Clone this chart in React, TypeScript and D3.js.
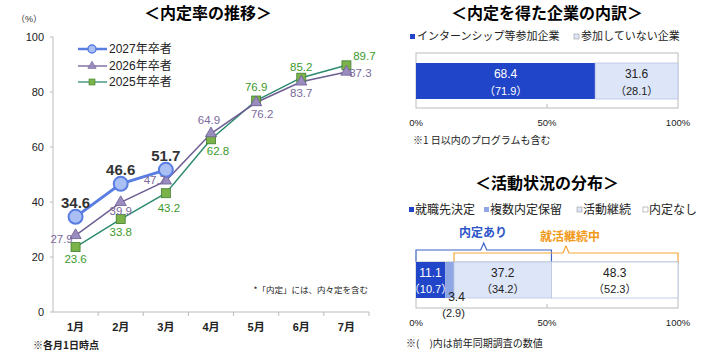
import * as d3 from 'd3';

// ---- data ----
const months = ['1月', '2月', '3月', '4月', '5月', '6月', '7月'];
const rate2027 = [34.6, 46.6, 51.7];
const rate2026 = [27.9, 39.9, 47.7, 64.9, 76.2, 83.7, 87.3];
const rate2025 = [23.6, 33.8, 43.2, 62.8, 76.9, 85.2, 89.7];
const yTicks = [0, 20, 40, 60, 80, 100];

const companyLabels = ['インターンシップ等参加企業', '参加していない企業'];
const companyValues = [68.4, 31.6];
const companyPrev = [71.9, 28.1];

const statusLabels = ['就職先決定', '複数内定保留', '活動継続', '内定なし'];
const statusValues = [11.1, 3.4, 37.2, 48.3];
const statusPrev = [10.7, 2.9, 34.2, 52.3];
const pctTicks = [0, 50, 100];

// label placement per point: [dx, dy]
const pos2026: [number, number][] = [[-14, 4], [0, 9], [-11, -1], [-2, -14], [6, 12], [0, 11], [14, 1]];
const pos2025: [number, number][] = [[0, 12], [0, 13], [3, 15], [7, 12], [0, -14], [0, -11], [18, -9]];

const FONT = '"Liberation Sans", "Noto Sans CJK JP", sans-serif';
const JP = '"Noto Sans CJK JP", sans-serif';

const C27 = '#5a7de2';
const C26 = '#6e5e94';
const C25 = '#2e8a70';
const DARK_BLUE = '#2145c9';
const MID_BLUE = '#8ea6e3';
const LIGHT_BLUE = '#dde5f8';
const AXIS = '#bbbbbb';

function LineChart() {
  const x = d3.scaleBand<string>().domain(months).range([53, 369]);
  const y = d3.scaleLinear().domain([0, 100]).range([312, 37]);
  const cx = (i: number) => (x(months[i]) ?? 0) + x.bandwidth() / 2;
  const line = d3
    .line<number>()
    .x((_, i) => cx(i))
    .y((d) => y(d));
  const tri = d3.symbol().type(d3.symbolTriangle).size(55)() ?? '';
  const triSmall = d3.symbol().type(d3.symbolTriangle).size(30)() ?? '';

  return (
    <g fontFamily={FONT}>
      <text x={208} y={19} textAnchor="middle" fontSize={16} fontWeight="bold" fontFamily={JP}>
        ＜内定率の推移＞
      </text>
      <text x={29} y={22} textAnchor="middle" fontSize={9} fill="#333">
        （%）
      </text>
      {/* y axis */}
      <line x1={53} x2={53} y1={y(100)} y2={y(0)} stroke={AXIS} />
      {yTicks.map((t) => (
        <g key={t}>
          <line x1={50} x2={53} y1={y(t)} y2={y(t)} stroke={AXIS} />
          <text x={44} y={y(t) + 4} textAnchor="end" fontSize={11} fill="#222">
            {t}
          </text>
        </g>
      ))}
      {/* x axis */}
      <line x1={53} x2={369} y1={y(0)} y2={y(0)} stroke={AXIS} />
      {months.map((m, i) => (
        <g key={m}>
          <line x1={(x(m) ?? 0) + x.bandwidth()} x2={(x(m) ?? 0) + x.bandwidth()} y1={y(0)} y2={y(0) + 4} stroke={AXIS} />
          <text x={cx(i)} y={331} textAnchor="middle" fontSize={11} fontWeight="bold" fill="#222">
            {m}
          </text>
        </g>
      ))}
      <text x={33} y={349} fontSize={10} fontWeight="bold" fill="#222" fontFamily={JP}>
        ※各月1日時点
      </text>
      <text x={368} y={293} textAnchor="end" fontSize={8.5} fill="#222" fontFamily={JP}>
        *「内定」には、内々定を含む
      </text>

      {/* series lines */}
      <path d={line(rate2025) ?? ''} fill="none" stroke={C25} strokeWidth={1.5} />
      <path d={line(rate2026) ?? ''} fill="none" stroke={C26} strokeWidth={1.5} />
      <path d={line(rate2027) ?? ''} fill="none" stroke={C27} strokeWidth={3} />

      {rate2025.map((d, i) => (
        <rect key={'s' + i} x={cx(i) - 4.5} y={y(d) - 4.5} width={9} height={9} fill="#7cb24a" stroke="#3f7d2e" strokeWidth={0.8} />
      ))}
      {rate2026.map((d, i) => (
        <path key={'t' + i} d={tri} transform={`translate(${cx(i)},${y(d)})`} fill="#9b8cc0" stroke={C26} strokeWidth={0.8} />
      ))}
      {rate2027.map((d, i) => (
        <circle key={'c' + i} cx={cx(i)} cy={y(d)} r={7} fill="#aabff4" stroke={C27} strokeWidth={2} />
      ))}

      {/* labels */}
      {rate2026.map((d, i) => (
        <text key={'lt' + i} x={cx(i) + pos2026[i][0]} y={y(d) + pos2026[i][1] + 4} textAnchor="middle" fontSize={11.5} fill="#7b6a9b">
          {d.toFixed(1)}
        </text>
      ))}
      {rate2025.map((d, i) => (
        <text key={'ls' + i} x={cx(i) + pos2025[i][0]} y={y(d) + pos2025[i][1] + 4} textAnchor="middle" fontSize={11.5} fill="#3c9a2c">
          {d.toFixed(1)}
        </text>
      ))}
      {rate2027.map((d, i) => (
        <text key={'lc' + i} x={cx(i)} y={y(d) - 9} textAnchor="middle" fontSize={15} fontWeight="bold" fill="#333">
          {d.toFixed(1)}
        </text>
      ))}

      {/* legend */}
      <g>
        <line x1={78} x2={107} y1={49} y2={49} stroke={C27} strokeWidth={2.5} />
        <circle cx={92} cy={49} r={4} fill="#aabff4" stroke={C27} strokeWidth={1.5} />
        <text x={109} y={53} fontSize={12} fill="#222">2027年卒者</text>
        <line x1={78} x2={107} y1={66} y2={66} stroke={C26} strokeWidth={1.3} />
        <path d={triSmall} transform="translate(92,66)" fill="#9b8cc0" stroke={C26} strokeWidth={0.6} />
        <text x={109} y={70} fontSize={12} fill="#222">2026年卒者</text>
        <line x1={78} x2={107} y1={82} y2={82} stroke={C25} strokeWidth={1.3} />
        <rect x={89} y={79} width={6} height={6} fill="#7cb24a" stroke="#3f7d2e" strokeWidth={0.6} />
        <text x={109} y={86} fontSize={12} fill="#222">2025年卒者</text>
      </g>
    </g>
  );
}

function CompanyChart() {
  const x = d3.scaleLinear().domain([0, 100]).range([416, 678]);
  const starts = d3.cumsum([0, ...companyValues]);
  const fills = [DARK_BLUE, LIGHT_BLUE];
  const textFill = ['#ffffff', '#222'];
  return (
    <g fontFamily={FONT}>
      <text x={547} y={19} textAnchor="middle" fontSize={16} fontWeight="bold" fontFamily={JP}>
        ＜内定を得た企業の内訳＞
      </text>
      <rect x={410} y={34} width={5} height={5} fill={DARK_BLUE} />
      <text x={417} y={40} fontSize={11} fill="#222" fontFamily={JP}>{companyLabels[0]}</text>
      <rect x={574} y={34} width={5} height={5} fill={LIGHT_BLUE} stroke="#999" strokeWidth={0.6} />
      <text x={581} y={40} fontSize={11} fill="#222" fontFamily={JP}>{companyLabels[1]}</text>

      <rect x={x(0)} y={53} width={x(100) - x(0)} height={55} fill="#fff" stroke={AXIS} />
      <line x1={x(50)} x2={x(50)} y1={104} y2={108} stroke={AXIS} />
      {companyValues.map((v, i) => (
        <g key={i}>
          <rect x={x(starts[i])} y={63} width={x(starts[i] + v) - x(starts[i])} height={36} fill={fills[i]} stroke={i === 1 ? '#b8c4e0' : 'none'} strokeWidth={0.8} />
          <text x={(x(starts[i]) + x(starts[i] + v)) / 2} y={78} textAnchor="middle" fontSize={12} fill={textFill[i]}>
            {v.toFixed(1)}
          </text>
          <text x={(x(starts[i]) + x(starts[i] + v)) / 2} y={95} textAnchor="middle" fontSize={11} fill={textFill[i]}>
            （{companyPrev[i].toFixed(1)}）
          </text>
        </g>
      ))}
      {pctTicks.map((t) => (
        <text key={t} x={x(t)} y={126} textAnchor="middle" fontSize={9.5} fill="#222">
          {t}%
        </text>
      ))}
      <text x={413} y={144} fontSize={10} fill="#222" fontFamily={JP}>
        ※1 日以内のプログラムも含む
      </text>
    </g>
  );
}

function StatusChart() {
  const x = d3.scaleLinear().domain([0, 100]).range([416, 678]);
  const starts = d3.cumsum([0, ...statusValues]);
  const fills = [DARK_BLUE, MID_BLUE, LIGHT_BLUE, '#ffffff'];
  const legendX = [409, 484, 577, 643];
  const barTop = 262;
  const barBot = 298;
  const naiteiEnd = x(starts[3]);
  const shukatsuStart = x(starts[2]);
  return (
    <g fontFamily={FONT}>
      <text x={547} y={189} textAnchor="middle" fontSize={16} fontWeight="bold" fontFamily={JP}>
        ＜活動状況の分布＞
      </text>
      {statusLabels.map((l, i) => (
        <g key={l}>
          <rect x={legendX[i]} y={207} width={5} height={5} fill={fills[i]} stroke={i >= 2 ? '#999' : 'none'} strokeWidth={0.6} />
          <text x={legendX[i] + 6} y={214} fontSize={12} fill="#222" fontFamily={JP}>
            {l}
          </text>
        </g>
      ))}

      {/* brackets */}
      <text x={483} y={237} textAnchor="middle" fontSize={12} fontWeight="bold" fill="#2e55c8" fontFamily={JP}>
        内定あり
      </text>
      <path
        d={`M${x(0)},${barTop} L${x(0)},250 L${(x(0) + naiteiEnd) / 2 - 3},250 L${(x(0) + naiteiEnd) / 2},243 L${(x(0) + naiteiEnd) / 2 + 3},250 L${naiteiEnd},250 L${naiteiEnd},${barTop + 2}`}
        fill="none"
        stroke="#3e63c8"
        strokeWidth={1.2}
      />
      <text x={570} y={241} textAnchor="middle" fontSize={12} fontWeight="bold" fill="#f29a1a" fontFamily={JP}>
        就活継続中
      </text>
      <path
        d={`M${shukatsuStart},${barTop + 2} L${shukatsuStart},253 L${(shukatsuStart + x(100)) / 2 - 3},253 L${(shukatsuStart + x(100)) / 2},246 L${(shukatsuStart + x(100)) / 2 + 3},253 L${x(100)},253 L${x(100)},${barTop + 2}`}
        fill="none"
        stroke="#f4a53a"
        strokeWidth={1.2}
      />

      <rect x={x(0)} y={barTop} width={x(100) - x(0)} height={46} fill="#fff" stroke={AXIS} />
      <line x1={x(50)} x2={x(50)} y1={304} y2={308} stroke={AXIS} />
      {statusValues.map((v, i) => {
        const x0 = x(starts[i]);
        const x1 = x(starts[i] + v);
        return (
          <rect key={'r' + i} x={x0} y={barTop} width={x1 - x0} height={barBot - barTop} fill={fills[i]} stroke={i >= 2 ? '#b8c4e0' : 'none'} strokeWidth={0.8} />
        );
      })}
      {statusValues.map((v, i) => {
        const x0 = x(starts[i]);
        const x1 = x(starts[i] + v);
        const mid = (x0 + x1) / 2;
        const small = i === 1;
        const col = i === 0 ? '#fff' : '#222';
        return (
          <g key={'t' + i}>
            <text x={small ? mid + 7 : mid} y={small ? 301 : 277} textAnchor="middle" fontSize={12} fill={col}>
              {v.toFixed(1)}
            </text>
            <text x={small ? mid + 4 : mid} y={small ? 317 : 293} textAnchor="middle" fontSize={11} fill={col}>
              {small ? `(${statusPrev[i].toFixed(1)})` : `（${statusPrev[i].toFixed(1)}）`}
            </text>
          </g>
        );
      })}
      {pctTicks.map((t) => (
        <text key={t} x={x(t)} y={326} textAnchor="middle" fontSize={9.5} fill="#222">
          {t}%
        </text>
      ))}
      <text x={406} y={347} fontSize={10} fill="#222" fontFamily={JP}>
        ※(　)内は前年同期調査の数値
      </text>
    </g>
  );
}

export default function App() {
  return (
    <svg
      width={724}
      height={364}
      viewBox="0 0 724 364"
      style={{ position: 'absolute', left: 0, top: 0, background: '#fff' }}
    >
      <rect width={724} height={364} fill="#fff" />
      <LineChart />
      <CompanyChart />
      <StatusChart />
    </svg>
  );
}
